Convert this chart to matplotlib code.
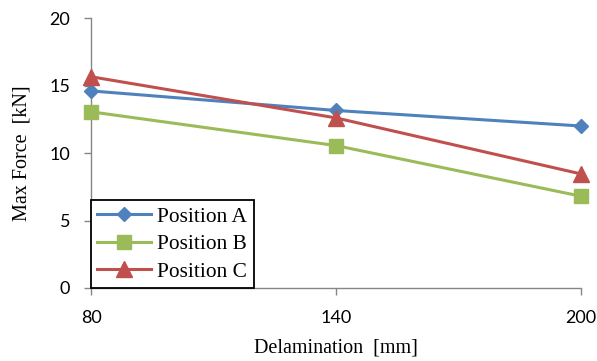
import matplotlib
matplotlib.use("Agg")
import matplotlib.pyplot as plt

delamination = [80, 140, 200]
pos_a = [14.6, 13.15, 12.0]
pos_b = [13.05, 10.55, 6.8]
pos_c = [15.65, 12.6, 8.45]
series_labels = ["Position A", "Position B", "Position C"]
y_ticks = [0, 5, 10, 15, 20]

fig = plt.figure(figsize=(5.97, 3.61), dpi=100)
ax = fig.add_axes([91/597, 1-288/361, (581-91)/597, (288-18)/361])

colors = ["#4F81BD", "#9BBB59", "#C0504D"]
markers = ["D", "s", "^"]
msizes = [7.5, 10.5, 11]
for vals, lab, c, m, ms in zip([pos_a, pos_b, pos_c], series_labels, colors, markers, msizes):
    ax.plot(delamination, vals, color=c, marker=m, markersize=ms, linewidth=2.2,
            label=lab, clip_on=False, zorder=3)

ax.set_xlim(80, 200)
ax.set_ylim(0, 20)
ax.set_xticks(delamination)
ax.set_yticks(y_ticks)
for s in ["top", "right"]:
    ax.spines[s].set_visible(False)
for s in ["left", "bottom"]:
    ax.spines[s].set_color("#868686")
    ax.spines[s].set_linewidth(1.0)
ax.tick_params(axis="both", colors="#868686", length=5, width=1.0, labelcolor="black",
               labelsize=13)
ax.tick_params(axis="x", pad=11)
ax.tick_params(axis="y", pad=10)
for lbl in ax.get_xticklabels() + ax.get_yticklabels():
    lbl.set_fontfamily("Lato")

ax.set_xlabel("Delamination  [mm]", fontfamily="Liberation Serif", fontsize=14.5, labelpad=9)
ax.set_ylabel("Max Force  [kN]", fontfamily="Liberation Serif", fontsize=14.5, labelpad=13)

leg = ax.legend(loc="lower left", bbox_to_anchor=(0, 0), prop={"family": "Liberation Serif", "size": 15.4},
                frameon=True, fancybox=False, edgecolor="black", framealpha=1,
                borderpad=0.3, labelspacing=0.35, handlelength=2.5, handletextpad=0.3,
                borderaxespad=0)
leg.get_frame().set_linewidth(1.3)
leg.set_zorder(5)

fig.savefig("out.png", dpi=100)
